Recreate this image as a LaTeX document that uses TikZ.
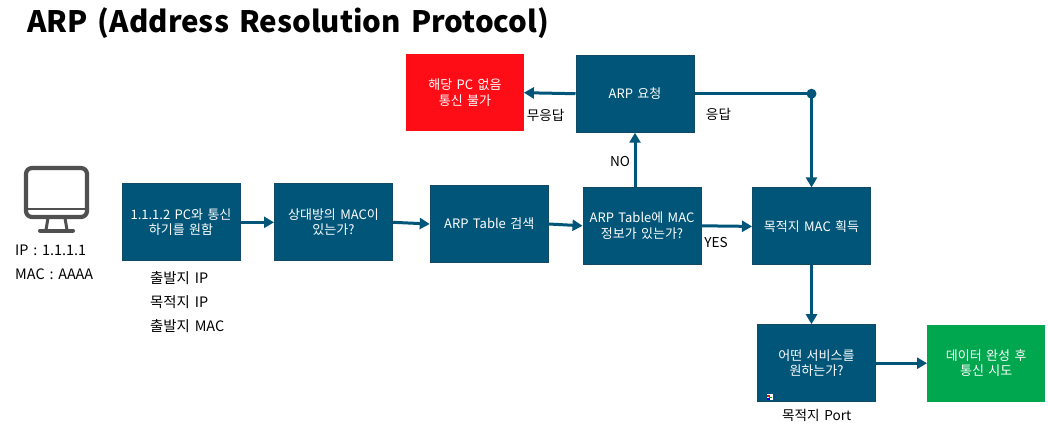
\documentclass[tikz,border=0pt]{standalone}
\usepackage{fontspec}
\setmainfont[WordSpace=1.5]{Noto Sans CJK KR}
\usetikzlibrary{arrows.meta}
\definecolor{boxblue}{HTML}{005578}
\definecolor{boxedge}{HTML}{124A66}
\definecolor{alertred}{HTML}{FF0D17}
\definecolor{okgreen}{HTML}{00A74F}
\definecolor{icongray}{HTML}{505050}
\tikzset{
  x=1pt,y=-1pt,
  bx/.style={minimum width=#1,minimum height=77pt,inner sep=0pt,align=center,font=\fontsize{13}{15.5}\selectfont,text=white,anchor=north west},
  flow/.style={bx=118pt,fill=boxblue,draw=boxedge,line width=1pt},
  redbox/.style={bx=117.5pt,fill=alertred},
  greenbox/.style={bx=118pt,fill=okgreen},
  conn/.style={draw=boxblue,line width=3pt,-{Triangle[length=10pt,width=11pt]},shorten >=0pt},
  lbl/.style={font=\fontsize{13.6}{15}\selectfont,text=black,inner sep=0pt},
  lleft/.style={lbl,anchor=west},
  lwide/.style={lleft,font=\fontsize{14.4}{15}\selectfont},
  icon/.style={draw=icongray,line width=4.2pt,line join=round}
}
\begin{document}
\begin{tikzpicture}
\useasboundingbox (0,0) rectangle (1048,424);
\node[anchor=west,inner sep=0pt,font=\fontsize{29.5}{32}\selectfont\bfseries] (title) at (27,23) {ARP (Address Resolution Protocol)};
% monitor icon
\draw[icon,rounded corners=6pt] (26,168) rectangle (87,217);
\draw[draw=icongray,line width=2.5pt] (26,209) -- (87,209);
\draw[draw=icongray,line width=3pt] (48,218) -- (46,230);
\draw[draw=icongray,line width=3pt] (65,218) -- (67,230);
\draw[draw=icongray,line width=4pt,line cap=round] (40,230.5) -- (73,230.5);
\node[lwide] (ipa) at (15,250) {IP : 1.1.1.1};
\node[lwide] (maca) at (15,274.5) {MAC : AAAA};
% boxes
\node[flow] (b1) at (121.5,183.3) {1.1.1.2 PC와 통신\\하기를 원함};
\node[flow] (b2) at (274,183.3) {상대방의 MAC이\\있는가?};
\node[flow] (b3) at (429.7,185) {ARP Table 검색};
\node[flow] (b4) at (582.5,186.8) {ARP Table에 MAC\\정보가 있는가?};
\node[flow] (b5) at (752,187.4) {목적지 MAC 획득};
\node[flow] (arp) at (575.5,54.7) {ARP 요청};
\node[redbox] (red) at (406,54) {해당 PC 없음\\통신 불가};
\node[flow] (b6) at (757,324.2) {어떤 서비스를\\원하는가?};
\node[greenbox] (green) at (927,324.5) {데이터 완성 후\\통신 시도};
% dot
\node[circle,fill=boxblue,inner sep=0pt,minimum size=10pt] (dot) at (b5.north |- arp.east) {};
% connectors
\draw[conn] (b1.east) -- (b2.west);
\draw[conn] (b2.east) -- (b3.west);
\draw[conn] (b3.east) -- (b4.west);
\draw[conn] (b4.east) -- (b5.west);
\draw[conn] (arp.south |- b4.north) -- (arp.south);
\draw[conn] (arp.west) -- (red.east);
\draw[draw=boxblue,line width=3pt] (arp.east) -- (dot.center);
\draw[conn] (dot.center) -- (b5.north);
\draw[conn] (b5.south) -- (b5.south |- b6.north);
\draw[conn] (b6.east) -- (green.west);
% labels
\node[lbl] (nr) at (545.7,115) {무응답};
\node[lbl] (re) at (718.5,114) {응답};
\node[lbl] (no) at (620,161.5) {NO};
\node[lbl] (yes) at (716,243) {YES};
\node[lwide] (s1) at (150,278) {출발지 IP};
\node[lwide] (s2) at (150,302.5) {목적지 IP};
\node[lwide] (s3) at (150,326.5) {출발지 MAC};
\node[lleft] (port) at (782,415.5) {목적지 Port};
% small cursor artefact
\fill[white] (767,394) rectangle (773,400);
\fill[red] (767,395) rectangle (770,396.5);
\fill[green!70!black] (769,396.5) rectangle (772,398);
\fill[blue] (767,398) rectangle (770,399.5);
\end{tikzpicture}
\end{document}
